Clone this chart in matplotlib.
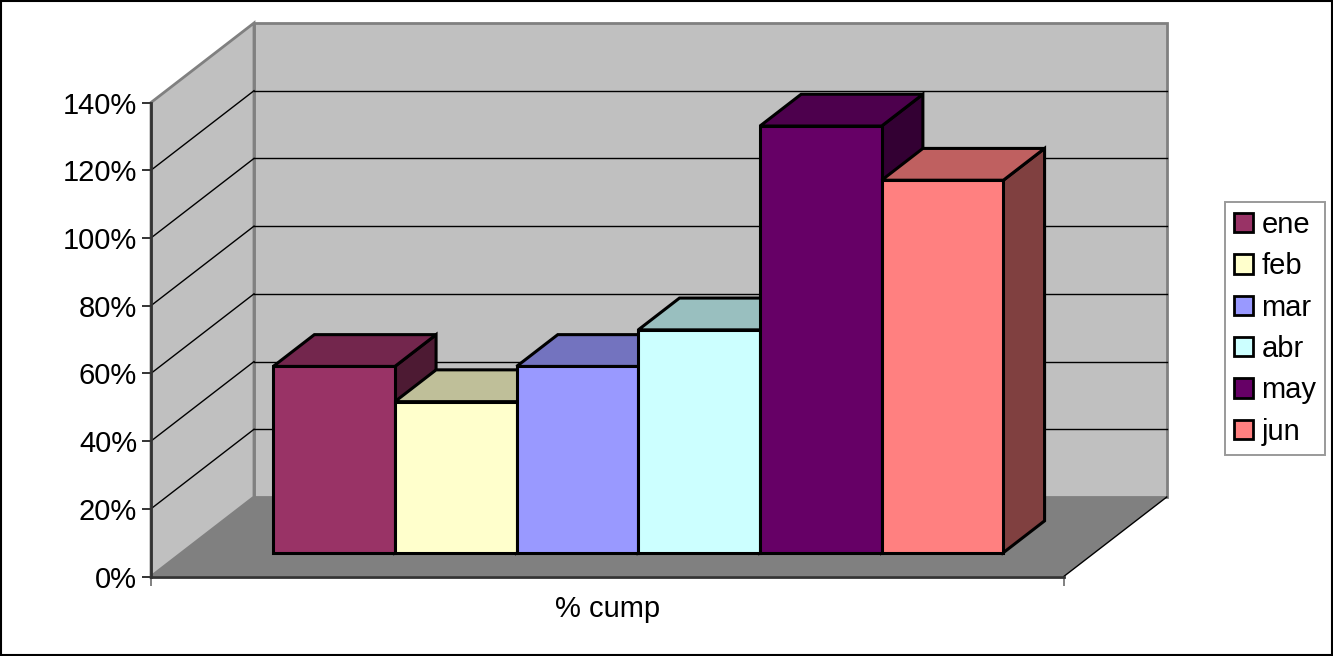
import matplotlib
matplotlib.use("Agg")
from matplotlib import pyplot as plt
from matplotlib.patches import Polygon, Patch, Rectangle

plt.rcParams['font.family'] = ['Liberation Sans', 'DejaVu Sans']

months = ["ene", "feb", "mar", "abr", "may", "jun"]
values = [55, 44.6, 55, 65.8, 126, 110]   # % cump
front_colors = ["#993366", "#FFFFCC", "#9999FF", "#CCFFFF", "#660066", "#FF8080"]
yticks = [0, 20, 40, 60, 80, 100, 120, 140]
x_label = "% cump"

W, H = 1333, 656
fig = plt.figure(figsize=(W / 100, H / 100), dpi=100)

# front plane of the 3d box, in pixels
x0_px, y0_px = 151, 576.5
unit_px = 121.7          # one bar width
ymax_px = 102.5          # 140% on the front plane
floor_w = 7.5            # gap 0.75 + 6 bars + gap 0.75
ax = fig.add_axes([x0_px / W, 1 - y0_px / H, floor_w * unit_px / W, (y0_px - ymax_px) / H])
ax.set_xlim(0, floor_w)
ax.set_ylim(0, 140)
ax.set_facecolor("none")

# depth offset of the back plane in data units
px_per_pct = (y0_px - ymax_px) / 140
DX = 103 / unit_px
DY = 79.5 / px_per_pct


def shade(c, k):
    r, g, b = matplotlib.colors.to_rgb(c)
    return (r * k, g * k, b * k)


def poly(pts, fc, ec="none", lw=0, z=1):
    p = Polygon(pts, closed=True, facecolor=fc, edgecolor=ec, linewidth=lw,
                joinstyle="miter", clip_on=False, zorder=z)
    ax.add_patch(p)


# walls and floor
poly([(DX, DY), (floor_w + DX, DY), (floor_w + DX, 140 + DY), (DX, 140 + DY)],
     "#C0C0C0", "#808080", 2, 0.5)
poly([(0, 0), (DX, DY), (DX, 140 + DY), (0, 140)], "#C0C0C0", "#808080", 2, 0.6)
poly([(0, 0), (floor_w, 0), (floor_w + DX, DY), (DX, DY)], "#808080", z=0.7)
ax.plot([floor_w, floor_w + DX], [0, DY], color="black", lw=1, clip_on=False, zorder=0.8)

# gridlines on back and side wall
for v in yticks[1:-1]:
    ax.plot([DX, floor_w + DX], [v + DY, v + DY], color="black", lw=1, clip_on=False, zorder=0.8)
    ax.plot([0, DX], [v, v + DY], color="black", lw=1, clip_on=False, zorder=0.8)

# bars
f0, f1 = 0.3, 0.7
for i, (v, c) in enumerate(zip(values, front_colors)):
    xl = 0.75 + i + f0 * DX
    xr = xl + 1
    yb = f0 * DY
    ddx = (f1 - f0) * DX
    ddy = (f1 - f0) * DY
    z = 3 + i
    poly([(xr, yb), (xr + ddx, yb + ddy), (xr + ddx, yb + ddy + v), (xr, yb + v)],
         shade(c, 0.5), "black", 2.2, z)
    poly([(xl, yb + v), (xr, yb + v), (xr + ddx, yb + ddy + v), (xl + ddx, yb + ddy + v)],
         shade(c, 0.75), "black", 2.2, z)
    poly([(xl, yb), (xr, yb), (xr, yb + v), (xl, yb + v)], c, "black", 2.2, z)

# axes
for s in ["top", "right"]:
    ax.spines[s].set_visible(False)
ax.spines["left"].set_color("#333333")
ax.spines["bottom"].set_color("#333333")
ax.spines["left"].set_linewidth(2)
ax.spines["bottom"].set_linewidth(2)
ax.set_yticks(yticks)
ax.set_yticklabels([f"{t}%" for t in yticks], fontsize=21)
ax.tick_params(axis="y", direction="out", length=6.5, width=1.4, color="#333333", pad=3.5)
ax.set_xticks([0, floor_w])
ax.set_xticklabels(["", ""])
ax.tick_params(axis="x", direction="out", length=6.5, width=1.4, color="#808080")
fig.text((x0_px + floor_w * unit_px / 2) / W, 1 - 609 / H, x_label,
         fontsize=21, ha="center", va="center")

handles = [Patch(facecolor=c, edgecolor="black", linewidth=2) for c in front_colors]
leg = fig.legend(handles, months, loc="upper left",
                 bbox_to_anchor=(1225 / W, 1 - 202 / H), borderaxespad=0,
                 fontsize=21, frameon=True, fancybox=False, handlelength=0.65,
                 handleheight=0.65, handletextpad=0.3, labelspacing=0.46, borderpad=0.3)
leg.get_frame().set_edgecolor("#808080")
leg.get_frame().set_linewidth(1.4)

fig.add_artist(Rectangle((0.001, 0.001), 0.998, 0.997, transform=fig.transFigure,
                         fill=False, edgecolor="black", linewidth=1.5))

fig.savefig("out.png", dpi=100)
